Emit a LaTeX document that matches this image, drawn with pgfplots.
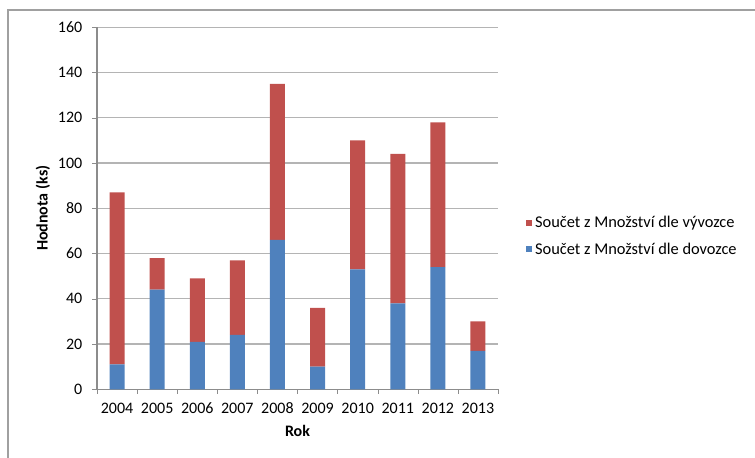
\documentclass[border=0pt]{standalone}
\usepackage{pgfplots}
\pgfplotsset{compat=1.18}
\usepackage{fontspec}
\setmainfont{Carlito}
\definecolor{xblue}{HTML}{4F81BD}
\definecolor{xred}{HTML}{C0504D}
\definecolor{gridc}{HTML}{B4B4B4}
\definecolor{axc}{HTML}{8C8C8C}
\definecolor{framec}{HTML}{A0A0A0}
\pgfplotstableread{
x blue red
0 11 76
1 44 14
2 21 28
3 24 33
4 66 69
5 10 26
6 53 57
7 38 66
8 54 64
9 17 13
}\datatab
\begin{document}
\begin{tikzpicture}
\begin{axis}[
  name=main,
  scale only axis,
  width=300.75pt, height=271.5pt,
  ybar stacked, bar width=11.25pt,
  xmin=-0.5, xmax=9.5, ymin=0, ymax=160,
  ytick={0,20,...,160},
  xtick={0,...,9},
  xticklabels={2004,2005,2006,2007,2008,2009,2010,2011,2012,2013},
  major x tick style={draw=none},
  minor xtick={-0.5,0.5,...,9.5},
  minor x tick style={draw=axc},
  minor tick length=3.5pt,
  major tick length=3.5pt,
  tick align=outside,
  axis x line*=bottom, axis y line*=left,
  axis line style={draw=axc, line width=0.8pt, -},
  ytick style={draw=axc},
  ymajorgrids, grid style={draw=gridc, line width=0.8pt},
  tick label style={font=\fontsize{12}{14}\selectfont},
  /pgf/number format/assume math mode=true,
  yticklabel style={xshift=-4pt},
  xticklabel style={yshift=-3pt},
  xlabel={\textbf{Rok}}, ylabel={\textbf{Hodnota (ks)}},
  label style={font=\fontsize{12}{14}\selectfont},
  xlabel style={yshift=-1.5pt},
  ylabel style={yshift=-1pt},
  reverse legend,
  legend style={at={(1.06,0.4235)}, anchor=west, draw=none, fill=none,
    font=\fontsize{12.3}{14}\selectfont, row sep=6pt,
    /tikz/every even column/.append style={column sep=2pt}},
  legend cell align=left,
  legend image code/.code={\fill[#1] (0pt,-2.3pt) rectangle (4.6pt,2.3pt);},
]
\addplot[fill=xblue, draw=none] table[x=x, y=blue] {\datatab};
\addlegendentry{Součet z Množství dle dovozce}
\addplot[fill=xred, draw=none] table[x=x, y=red] {\datatab};
\addlegendentry{Součet z Množství dle vývozce}
\end{axis}
\begin{scope}[shift={(main.south west)}]
\useasboundingbox (-72.75pt,-50.8pt) rectangle (493.5pt,291.95pt);
\draw[overlay, color=framec, line width=1.1pt] (-66.75pt,-60pt) -- (-66.75pt,284.45pt) -- (510pt,284.45pt);
\end{scope}
\end{tikzpicture}
\end{document}
